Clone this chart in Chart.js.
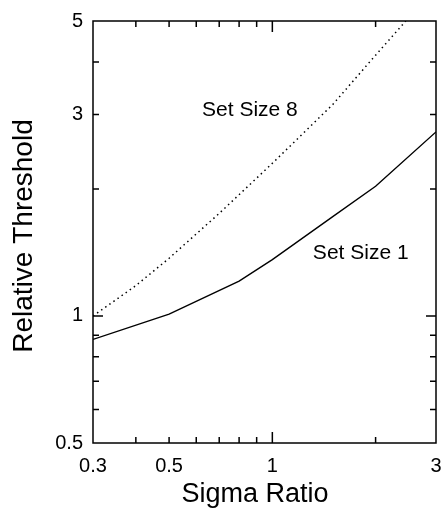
<!doctype html>
<html lang="en">
<head>
  <meta charset="utf-8">
  <title>relative threshold</title>
  <style>
    body { margin: 0; background: #fff; overflow: hidden; }
    #wrap { width: 444px; height: 509px; }
  </style>
</head>
<body>
  <div id="wrap"><canvas id="chart"></canvas></div>

  <script src="https://cdn.jsdelivr.net/npm/chart.js@4/dist/chart.umd.min.js"></script>
  <script>
  // values (log-log axes)
  const size1X = [0.3, 0.5, 0.8, 1.0, 1.5, 2.0, 3.0];
  const size1Y = [0.88, 1.01, 1.21, 1.36, 1.72, 2.03, 2.73];
  const size8X = [0.3, 0.4, 0.5, 0.7, 1.0, 1.5, 2.0, 2.45];
  const size8Y = [1.0, 1.18, 1.37, 1.75, 2.3, 3.17, 4.15, 5.0];

  const xTickLabels = [0.3, 0.5, 1, 3];
  const yTickLabels = [0.5, 1, 3, 5];
  const xMinorTicks = [0.4, 0.5, 0.6, 0.7, 0.8, 0.9, 2];
  const yMinorTicks = [0.6, 0.7, 0.8, 0.9, 2, 3, 4];
  const decadeTicks = [1];

  const notes = [
    {text: 'Set Size 8', x: 0.86, y: 3.08},
    {text: 'Set Size 1', x: 1.81, y: 1.41},
  ];

  const FONT = '"Liberation Sans", Arial, Helvetica, sans-serif';

  function points(xs, ys) {
    return xs.map((x, i) => ({x: x, y: ys[i]}));
  }

  // box round the plot and the little inward tick marks on all four sides
  const frame = {
    id: 'frame',
    afterDatasetsDraw(chart) {
      const {ctx, chartArea: a, scales: {x, y}} = chart;
      ctx.save();
      ctx.strokeStyle = '#000';
      ctx.lineWidth = 1.5;
      ctx.strokeRect(a.left, a.top, a.right - a.left, a.bottom - a.top);
      ctx.beginPath();
      xMinorTicks.concat(decadeTicks).forEach(v => {
        let len = decadeTicks.includes(v) ? 11 : 6;
        let px = x.getPixelForValue(v);
        ctx.moveTo(px, a.bottom); ctx.lineTo(px, a.bottom - len);
        ctx.moveTo(px, a.top); ctx.lineTo(px, a.top + len);
      });
      yMinorTicks.concat(decadeTicks).forEach(v => {
        let len = decadeTicks.includes(v) ? 10 : 6;
        let py = y.getPixelForValue(v);
        ctx.moveTo(a.left, py); ctx.lineTo(a.left + len, py);
        ctx.moveTo(a.right, py); ctx.lineTo(a.right - len, py);
      });
      ctx.stroke();
      ctx.restore();
    }
  };

  const texts = {
    id: 'texts',
    afterDraw(chart) {
      const {ctx, scales: {x, y}} = chart;
      ctx.save();
      ctx.fillStyle = '#000';
      ctx.textAlign = 'center';
      ctx.textBaseline = 'middle';
      ctx.font = '21px ' + FONT;
      notes.forEach(n => {
        ctx.fillText(n.text, x.getPixelForValue(n.x), y.getPixelForValue(n.y));
      });
      ctx.font = '27px ' + FONT;
      ctx.fillText('Sigma Ratio', 255, 495);
      ctx.font = '28px ' + FONT;
      ctx.translate(24, 236);
      ctx.rotate(-Math.PI / 2);
      ctx.fillText('Relative Threshold', 0, 0);
      ctx.restore();
    }
  };

  const ctx = document.getElementById('chart').getContext('2d');
  new Chart(ctx, {
    type: 'line',
    data: {
      datasets: [
        {
          label: 'Set Size 1',
          data: points(size1X, size1Y),
          borderColor: '#000',
          borderWidth: 1.4,
          pointRadius: 0,
          tension: 0,
        },
        {
          label: 'Set Size 8',
          data: points(size8X, size8Y),
          borderColor: '#000',
          borderWidth: 1.5,
          borderDash: [1.5, 3.5],
          pointRadius: 0,
          tension: 0,
        },
      ],
    },
    options: {
      responsive: true,
      maintainAspectRatio: false,
      animation: false,
      layout: { padding: { top: 21, right: 8, left: 0, bottom: 0 } },
      plugins: {
        legend: { display: false },
        tooltip: { enabled: false },
      },
      scales: {
        x: {
          type: 'logarithmic',
          min: 0.3,
          max: 3,
          afterFit: s => { s.height = 66; s.paddingLeft = 0; s.paddingRight = 0; },
          afterBuildTicks: s => { s.ticks = xTickLabels.map(v => ({value: v})); },
          grid: { display: false, drawTicks: false },
          border: { display: false },
          ticks: {
            autoSkip: false,
            maxRotation: 0,
            padding: 11,
            color: '#000',
            font: { family: FONT, size: 20 },
            callback: v => String(v),
          },
        },
        y: {
          type: 'logarithmic',
          min: 0.5,
          max: 5,
          afterFit: s => { s.width = 93; s.paddingTop = 0; s.paddingBottom = 0; },
          afterBuildTicks: s => { s.ticks = yTickLabels.map(v => ({value: v})); },
          grid: { display: false, drawTicks: false },
          border: { display: false },
          ticks: {
            autoSkip: false,
            padding: 10,
            color: '#000',
            font: { family: FONT, size: 20 },
            callback: v => String(v),
          },
        },
      },
    },
    plugins: [frame, texts],
  });
  </script>
</body>
</html>
